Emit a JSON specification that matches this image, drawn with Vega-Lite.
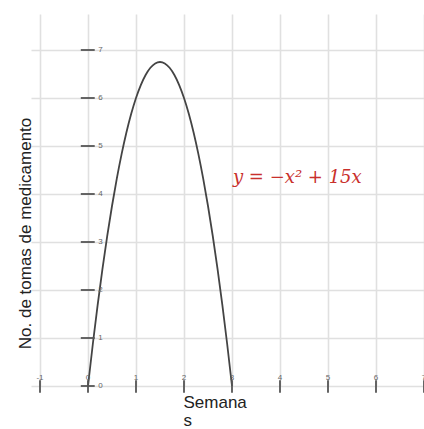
{
  "$schema": "https://vega.github.io/schema/vega-lite/v6.json",
  "autosize": "none",
  "width": 393,
  "height": 372,
  "padding": {"left": 31, "top": 14, "right": 0, "bottom": 43},
  "config": {"view": {"stroke": null}, "font": "Liberation Sans"},
  "datasets": {
    "curve": [
      {"semana": 0, "tomas": 0}, {"semana": 0.1, "tomas": 0.87}, {"semana": 0.2, "tomas": 1.68},
      {"semana": 0.3, "tomas": 2.43}, {"semana": 0.4, "tomas": 3.12}, {"semana": 0.5, "tomas": 3.75},
      {"semana": 0.6, "tomas": 4.32}, {"semana": 0.7, "tomas": 4.83}, {"semana": 0.8, "tomas": 5.28},
      {"semana": 0.9, "tomas": 5.67}, {"semana": 1.0, "tomas": 6.0}, {"semana": 1.1, "tomas": 6.27},
      {"semana": 1.2, "tomas": 6.48}, {"semana": 1.3, "tomas": 6.63}, {"semana": 1.4, "tomas": 6.72},
      {"semana": 1.5, "tomas": 6.75}, {"semana": 1.6, "tomas": 6.72}, {"semana": 1.7, "tomas": 6.63},
      {"semana": 1.8, "tomas": 6.48}, {"semana": 1.9, "tomas": 6.27}, {"semana": 2.0, "tomas": 6.0},
      {"semana": 2.1, "tomas": 5.67}, {"semana": 2.2, "tomas": 5.28}, {"semana": 2.3, "tomas": 4.83},
      {"semana": 2.4, "tomas": 4.32}, {"semana": 2.5, "tomas": 3.75}, {"semana": 2.6, "tomas": 3.12},
      {"semana": 2.7, "tomas": 2.43}, {"semana": 2.8, "tomas": 1.68}, {"semana": 2.9, "tomas": 0.87},
      {"semana": 3.0, "tomas": 0}
    ],
    "xticks": [
      {"v": -1, "label": "-1"}, {"v": 0, "label": "0"}, {"v": 1, "label": "1"}, {"v": 2, "label": "2"},
      {"v": 3, "label": "3"}, {"v": 4, "label": "4"}, {"v": 5, "label": "5"}, {"v": 6, "label": "6"},
      {"v": 7, "label": "7"}
    ],
    "yticks": [
      {"v": 0, "label": "0"}, {"v": 1, "label": "1"}, {"v": 2, "label": "2"}, {"v": 3, "label": "3"},
      {"v": 4, "label": "4"}, {"v": 5, "label": "5"}, {"v": 6, "label": "6"}, {"v": 7, "label": "7"}
    ],
    "eq": [{"ex": 3.02, "ey": 4.23, "texto": "y = −x² + 15x"}]
  },
  "layer": [
    {
      "mark": {"type": "rect", "color": "#f3f3f3"},
      "encoding": {
        "x": {"datum": -1.1875, "type": "quantitative", "scale": {"domain": [-1.1875, 7], "nice": false, "zero": false}},
        "x2": {"datum": 7},
        "y": {"datum": 7.75, "type": "quantitative", "scale": {"domain": [0, 7.75], "nice": false, "zero": false}},
        "y2": {"datum": 7.875}
      }
    },
    {
      "data": {"name": "curve"},
      "mark": {"type": "line", "color": "#444444", "strokeWidth": 1.8, "interpolate": "monotone"},
      "encoding": {
        "x": {
          "field": "semana", "type": "quantitative",
          "axis": {
            "orient": "bottom", "values": [-1, 0, 1, 2, 3, 4, 5, 6, 7], "grid": true,
            "gridColor": "#e0e0e0", "gridWidth": 1.6, "labels": false, "ticks": false, "domain": false,
            "title": ["Semana", "s"], "titleFont": "Liberation Sans", "titleFontSize": 17,
            "titleFontWeight": "normal", "titleColor": "#222222", "titleAlign": "left",
            "titleAnchor": null, "titleX": 152, "titleY": 21, "titleBaseline": "alphabetic",
            "titleLineHeight": 18
          }
        },
        "y": {
          "field": "tomas", "type": "quantitative",
          "axis": {
            "orient": "left", "values": [0, 1, 2, 3, 4, 5, 6, 7], "grid": true,
            "gridColor": "#e0e0e0", "gridWidth": 1.6, "labels": false, "ticks": false, "domain": false,
            "title": "No. de tomas de medicamento", "titleFont": "Liberation Sans", "titleFontSize": 17,
            "titleFontWeight": "normal", "titleColor": "#222222", "titleAngle": -90,
            "titleAlign": "center", "titleAnchor": null, "titleX": -1, "titleY": 219,
            "titleBaseline": "alphabetic"
          }
        }
      }
    },
    {
      "mark": {"type": "rule", "color": "#555555", "strokeWidth": 2},
      "encoding": {"x": {"datum": -1.1875}, "x2": {"datum": 7}, "y": {"datum": 0}}
    },
    {
      "mark": {"type": "rule", "color": "#555555", "strokeWidth": 2},
      "encoding": {"x": {"datum": 0}, "y": {"datum": -0.13}, "y2": {"datum": 7.75}}
    },
    {
      "data": {"name": "yticks"},
      "mark": {"type": "rule", "color": "#555555", "strokeWidth": 1.8},
      "encoding": {"x": {"datum": -0.15}, "x2": {"datum": 0.14}, "y": {"field": "v", "type": "quantitative"}}
    },
    {
      "data": {"name": "xticks"},
      "mark": {"type": "rule", "color": "#555555", "strokeWidth": 1.8},
      "encoding": {"x": {"field": "v", "type": "quantitative"}, "y": {"datum": -0.14}, "y2": {"datum": 0.12}}
    },
    {
      "data": {"name": "yticks"},
      "mark": {"type": "text", "align": "left", "baseline": "middle", "fontSize": 8, "color": "#666666", "dx": 2},
      "encoding": {"x": {"datum": 0.17}, "y": {"field": "v", "type": "quantitative"}, "text": {"field": "label"}}
    },
    {
      "data": {"name": "xticks"},
      "mark": {"type": "text", "align": "center", "baseline": "bottom", "fontSize": 8, "color": "#666666", "dy": -4},
      "encoding": {"x": {"field": "v", "type": "quantitative"}, "y": {"datum": 0}, "text": {"field": "label"}}
    },
    {
      "data": {"name": "eq"},
      "mark": {"type": "text", "align": "left", "baseline": "alphabetic", "font": "DejaVu Serif", "fontStyle": "italic", "fontSize": 18, "color": "#c9302c"},
      "encoding": {"x": {"field": "ex", "type": "quantitative"}, "y": {"field": "ey", "type": "quantitative"}, "text": {"field": "texto"}}
    }
  ]
}
